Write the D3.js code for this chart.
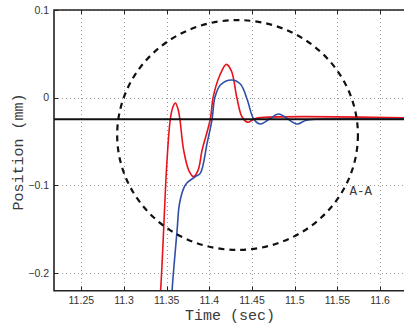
<!DOCTYPE html>
<html>
<head>
<meta charset="utf-8">
<script src="https://cdn.jsdelivr.net/npm/d3@7"></script>
<style>
  body { margin: 0; background: #fff; }
  svg { display: block; }
  .tick-label { font-family: "Liberation Sans", Arial, sans-serif; font-size: 10.5px; fill: #333; }
  .axis-label { font-family: "Liberation Mono", "DejaVu Sans Mono", monospace; font-size: 15px; fill: #3a3a3a; }
</style>
</head>
<body>
<div id="main"></div>
<script>
// Data
const xTicks = [11.25, 11.3, 11.35, 11.4, 11.45, 11.5, 11.55, 11.6];
const yTicks = [0.1, 0, -0.1, -0.2];

const redTime = [11.340, 11.3429, 11.3504, 11.3543, 11.3575, 11.3602, 11.3630, 11.3654, 11.3699, 11.3760,
  11.3816, 11.3870, 11.3914, 11.4012, 11.4043, 11.4120, 11.4199, 11.4260, 11.4322, 11.4383,
  11.4451, 11.4510, 11.4574, 11.635];
const redPos = [-0.25, -0.219, -0.071, -0.024, -0.010, -0.006, -0.012, -0.024, -0.060, -0.083,
  -0.090, -0.082, -0.060, -0.024, 0.000, 0.025, 0.038, 0.030, 0.000, -0.022,
  -0.028, -0.025, -0.023, -0.023];

const blueTime = [11.355, 11.3563, 11.3622, 11.3648, 11.3699, 11.3739, 11.3836, 11.3895, 11.3973, 11.4032,
  11.4064, 11.4129, 11.4258, 11.4363, 11.4445, 11.4519, 11.4598, 11.4703, 11.4812, 11.4920,
  11.5028, 11.5125, 11.524, 11.635];
const bluePos = [-0.25, -0.220, -0.151, -0.122, -0.1033, -0.097, -0.090, -0.086, -0.052, -0.0243,
  0.000, 0.0145, 0.0202, 0.0156, -0.0026, -0.0243, -0.030, -0.0243, -0.0186, -0.0243,
  -0.030, -0.026, -0.0245, -0.0245];

const refLevel = -0.0245;
// dashed "A-A" section: centre and radii in data units
const circleCenter = [11.433, -0.0425];
const circleRadius = [0.141, 0.131];
const circleLabel = "A-A";
const circleLabelPos = [11.564, -0.111];

// Layout config
const width = 404;
const height = 327;
const plot = { left: 54, right: 410, top: 10, bottom: 290.7 };

const svg = d3.select("#main").append("svg")
  .attr("width", width)
  .attr("height", height);

const x = d3.scaleLinear().domain([11.218, 11.635]).range([plot.left, plot.right]);
const y = d3.scaleLinear().domain([-0.22, 0.1]).range([plot.bottom, plot.top]);

svg.append("defs").append("clipPath").attr("id", "clip")
  .append("rect")
  .attr("x", plot.left).attr("y", plot.top)
  .attr("width", plot.right - plot.left).attr("height", plot.bottom - plot.top);

// Grid
const grid = svg.append("g").attr("stroke", "#9a9a9a").attr("stroke-width", 1).attr("stroke-dasharray", "1,3");
grid.selectAll(".vg").data(xTicks).join("line")
  .attr("x1", (d) => Math.round(x(d)) + 0.5).attr("x2", (d) => Math.round(x(d)) + 0.5)
  .attr("y1", plot.top).attr("y2", plot.bottom);
grid.selectAll(".hg").data(yTicks).join("line")
  .attr("y1", (d) => Math.round(y(d)) + 0.5).attr("y2", (d) => Math.round(y(d)) + 0.5)
  .attr("x1", plot.left).attr("x2", plot.right);

// Lines
const graphg = svg.append("g").attr("clip-path", "url(#clip)");
const line = d3.line().x((d) => x(d[0])).y((d) => y(d[1])).curve(d3.curveCatmullRom.alpha(0.5));

graphg.append("path")
  .datum(d3.zip(redTime, redPos))
  .attr("fill", "none").attr("stroke", "#e8141c").attr("stroke-width", 1.6)
  .attr("d", line);

graphg.append("path")
  .datum(d3.zip(blueTime, bluePos))
  .attr("fill", "none").attr("stroke", "#2f4fa6").attr("stroke-width", 1.6)
  .attr("d", line);

graphg.append("line")
  .attr("x1", plot.left).attr("x2", plot.right)
  .attr("y1", y(refLevel)).attr("y2", y(refLevel))
  .attr("stroke", "#111").attr("stroke-width", 2);

graphg.append("ellipse")
  .attr("cx", x(circleCenter[0])).attr("cy", y(circleCenter[1]))
  .attr("rx", x(circleCenter[0] + circleRadius[0]) - x(circleCenter[0]))
  .attr("ry", y(circleCenter[1]) - y(circleCenter[1] + circleRadius[1]))
  .attr("fill", "none").attr("stroke", "#111").attr("stroke-width", 2.2)
  .attr("stroke-dasharray", "6,5");

svg.append("text")
  .attr("class", "axis-label")
  .attr("x", x(circleLabelPos[0])).attr("y", y(circleLabelPos[1]))
  .style("font-size", "12.5px")
  .text(circleLabel);

// Axes frame
const frame = svg.append("g").attr("stroke", "#222").attr("stroke-width", 1.6).attr("fill", "none");
frame.append("path").attr("d", d3.line()([[plot.right, plot.top], [plot.left, plot.top], [plot.left, plot.bottom], [plot.right, plot.bottom]]));

// Tick marks (inside)
const ticks = svg.append("g").attr("stroke", "#222").attr("stroke-width", 1);
ticks.selectAll(".tb").data(xTicks).join("line")
  .attr("x1", (d) => Math.round(x(d)) + 0.5).attr("x2", (d) => Math.round(x(d)) + 0.5)
  .attr("y1", plot.bottom).attr("y2", plot.bottom - 4);
ticks.selectAll(".tt").data(xTicks).join("line")
  .attr("x1", (d) => Math.round(x(d)) + 0.5).attr("x2", (d) => Math.round(x(d)) + 0.5)
  .attr("y1", plot.top).attr("y2", plot.top + 4);
ticks.selectAll(".tl").data(yTicks).join("line")
  .attr("y1", (d) => Math.round(y(d)) + 0.5).attr("y2", (d) => Math.round(y(d)) + 0.5)
  .attr("x1", plot.left).attr("x2", plot.left + 4);

// Tick labels
const fmt = (d) => (d < 0 ? "\u2212" : "") + Math.abs(d).toString();
svg.selectAll(".xl").data(xTicks).join("text")
  .attr("class", "tick-label")
  .attr("x", (d) => x(d)).attr("y", plot.bottom + 13.5)
  .attr("text-anchor", "middle")
  .text((d) => fmt(d));
svg.selectAll(".yl").data(yTicks).join("text")
  .attr("class", "tick-label")
  .attr("x", plot.left - 5).attr("y", (d) => y(d) + 3.5)
  .attr("text-anchor", "end")
  .text((d) => fmt(d));

// Axis titles
svg.append("text")
  .attr("class", "axis-label")
  .attr("x", 230).attr("y", 320)
  .attr("text-anchor", "middle")
  .text("Time (sec)");
svg.append("text")
  .attr("class", "axis-label")
  .attr("transform", "translate(23,152) rotate(-90)")
  .attr("text-anchor", "middle")
  .text("Position (mm)");
</script>
</body>
</html>
